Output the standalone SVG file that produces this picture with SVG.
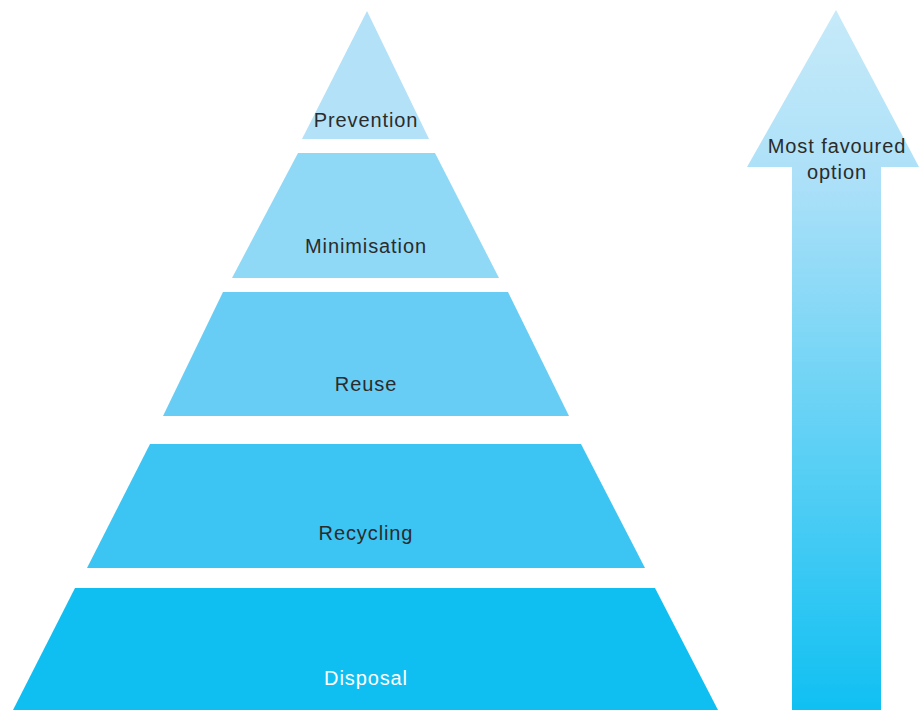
<svg xmlns="http://www.w3.org/2000/svg" width="919" height="710" viewBox="0 0 919 710">
<defs>
<linearGradient id="arrowGrad" x1="0" y1="10" x2="0" y2="710" gradientUnits="userSpaceOnUse">
<stop offset="0" stop-color="#c6eaf9"/>
<stop offset="0.25" stop-color="#abe0f8"/>
<stop offset="1" stop-color="#10c0f2"/>
</linearGradient>
<style>
.lbl{font-family:"Liberation Sans",Arial,sans-serif;font-size:20px;fill:#2b2b2b;text-anchor:middle;letter-spacing:0.9px}
.wht{fill:#ffffff}
</style>
</defs>
<rect width="919" height="710" fill="#ffffff"/>
<g id="prevention">
<polygon points="367,11 429,139 302,139" fill="#b2e1f8"/>
<text class="lbl" x="366" y="127">Prevention</text>
</g>
<g id="minimisation">
<polygon points="298,153 435,153 499,278 232,278" fill="#8fd9f6"/>
<text class="lbl" x="366" y="253">Minimisation</text>
</g>
<g id="reuse">
<polygon points="223,292 508,292 569,416 163,416" fill="#67cdf4"/>
<text class="lbl" x="366" y="391">Reuse</text>
</g>
<g id="recycling">
<polygon points="150,444 581,444 645,568 87,568" fill="#3cc5f3"/>
<text class="lbl" x="366" y="540">Recycling</text>
</g>
<g id="disposal">
<polygon points="75,588 655,588 718,710 13,710" fill="#10bff2"/>
<text class="lbl wht" x="366" y="685">Disposal</text>
</g>
<g id="connectors">
<g id="favoured-arrow">
<polygon points="836,10 919,167 881,167 881,710 792,710 792,167 747,167" fill="url(#arrowGrad)"/>
<text class="lbl" x="837" y="153">Most favoured</text>
<text class="lbl" x="837" y="179">option</text>
</g>
</g>
</svg>
